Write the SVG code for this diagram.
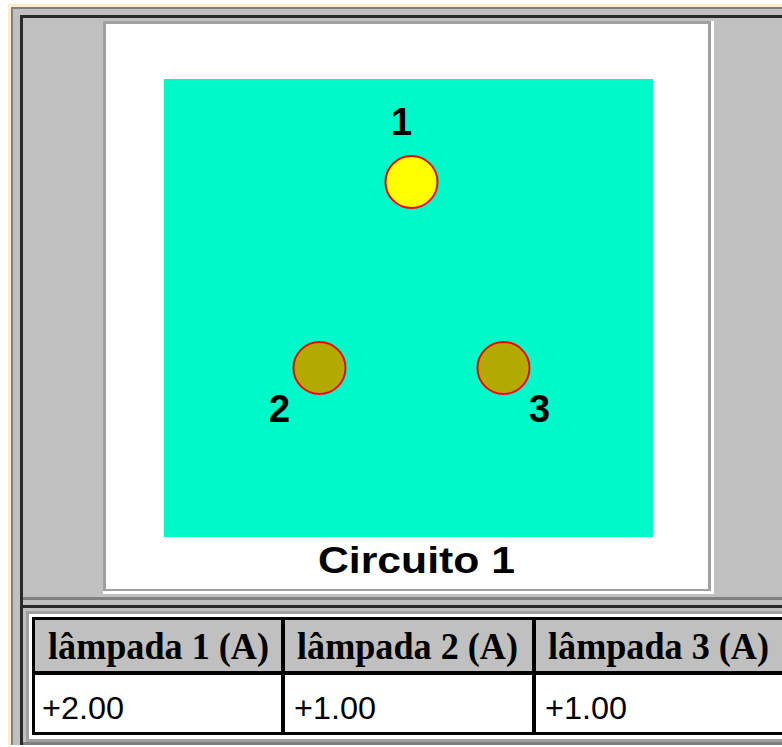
<svg xmlns="http://www.w3.org/2000/svg" width="782" height="747" viewBox="0 0 782 747">
<style>
.lamp{stroke:#ff0000;stroke-width:2}
.on{fill:#ffff00}
.off{fill:#b2aa00}
.num{font-family:"Liberation Sans",Arial,sans-serif;font-weight:bold;font-size:38px;fill:#000}
.cap{font-family:"Liberation Sans",Arial,sans-serif;font-weight:bold;font-size:37px;fill:#000}
.hdr{font-family:"Liberation Serif","Times New Roman",serif;font-weight:bold;font-size:37px;fill:#000}
.val{font-family:"Liberation Sans",Arial,sans-serif;font-size:31px;fill:#000}
</style>
<rect width="782" height="747" fill="#ffffff"/>
<!-- outer cream/gray bevel -->
<rect x="8" y="4" width="774" height="743" fill="#fdeccb"/>
<rect x="11" y="7" width="771" height="740" fill="#808080"/>
<rect x="13" y="9" width="769" height="736" fill="#c0c0c0"/>
<!-- frame 1 -->
<rect x="20" y="15" width="762" height="3" fill="#2a2a2a"/>
<rect x="20" y="15" width="3" height="730" fill="#2a2a2a"/>
<rect x="23" y="597" width="759" height="3" fill="#808080"/>
<!-- frame 2 -->
<rect x="23" y="605" width="759" height="3" fill="#2a2a2a"/>
<rect x="23" y="742" width="759" height="3" fill="#808080"/>
<rect x="0" y="745" width="782" height="2" fill="#ffffff"/>

<!-- white panel -->
<g id="panel">
<rect x="103" y="21" width="611" height="573" fill="#ffffff"/>
<rect x="103" y="21" width="608" height="3" fill="#a0a0a0"/>
<rect x="103" y="21" width="3" height="570" fill="#a0a0a0"/>
<rect x="708" y="24" width="3" height="567" fill="#a0a0a0"/>
<rect x="106" y="589" width="605" height="2" fill="#a0a0a0"/>
<rect x="164" y="79" width="489" height="458" fill="#00f9c9"/>
<text class="cap" x="318" y="573" textLength="197" lengthAdjust="spacingAndGlyphs">Circuito 1</text>
</g>

<g id="lamp1">
<circle class="lamp on" cx="411.5" cy="182" r="26"/>
<text class="num" x="391" y="135">1</text>
</g>
<g id="lamp2">
<circle class="lamp off" cx="319.5" cy="368" r="26"/>
<text class="num" x="269" y="422">2</text>
</g>
<g id="lamp3">
<circle class="lamp off" cx="503.5" cy="368" r="26"/>
<text class="num" x="529" y="422">3</text>
</g>
<g id="connectors"/>

<!-- table -->
<g id="table">
<rect x="26" y="611" width="756" height="128" fill="#ffffff"/>
<rect x="26" y="611" width="756" height="3" fill="#a0a0a0"/>
<rect x="26" y="611" width="3" height="128" fill="#a0a0a0"/>
<rect x="26" y="739" width="756" height="3" fill="#a0a0a0"/>
<rect x="32" y="617" width="750" height="118" fill="#000000"/>
<rect x="35" y="620" width="246" height="51" fill="#c0c0c0"/>
<rect x="285" y="620" width="247" height="51" fill="#c0c0c0"/>
<rect x="536" y="620" width="246" height="51" fill="#c0c0c0"/>
<rect x="35" y="675" width="246" height="57" fill="#ffffff"/>
<rect x="285" y="675" width="247" height="57" fill="#ffffff"/>
<rect x="536" y="675" width="246" height="57" fill="#ffffff"/>
<text class="hdr" x="48" y="659" textLength="221" lengthAdjust="spacingAndGlyphs">lâmpada 1 (A)</text>
<text class="hdr" x="297" y="659" textLength="221" lengthAdjust="spacingAndGlyphs">lâmpada 2 (A)</text>
<text class="hdr" x="548" y="659" textLength="221" lengthAdjust="spacingAndGlyphs">lâmpada 3 (A)</text>
<text class="val" x="42" y="719" textLength="82" lengthAdjust="spacingAndGlyphs">+2.00</text>
<text class="val" x="294" y="719" textLength="82" lengthAdjust="spacingAndGlyphs">+1.00</text>
<text class="val" x="545" y="719" textLength="82" lengthAdjust="spacingAndGlyphs">+1.00</text>
</g>
</svg>
